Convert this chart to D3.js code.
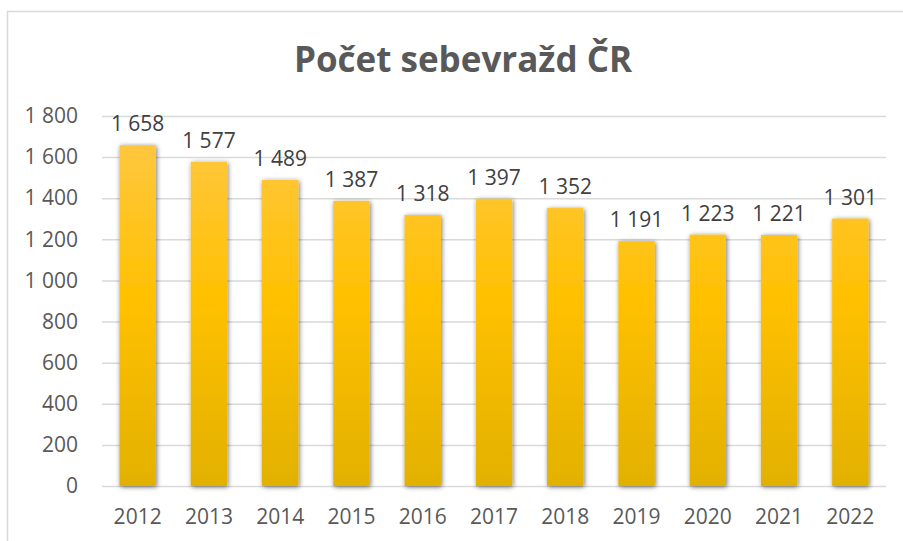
<!DOCTYPE html>
<html>
<head>
<meta charset="utf-8">
<script src="https://cdn.jsdelivr.net/npm/d3@7"></script>
<style>
  body { margin: 0; background: #fff; }
  text { font-family: "Open Sans", sans-serif; }
</style>
</head>
<body>
<svg id="chart" width="903" height="541"></svg>
<script>
const years = ["2012", "2013", "2014", "2015", "2016", "2017", "2018", "2019", "2020", "2021", "2022"];
const suicides = [1658, 1577, 1489, 1387, 1318, 1397, 1352, 1191, 1223, 1221, 1301];
const yTicks = [0, 200, 400, 600, 800, 1000, 1200, 1400, 1600, 1800];
const title = "Počet sebevražd ČR";

const svg = d3.select("#chart");
const margin = { left: 102, right: 17, top: 116, bottom: 55 };
const width = 903, height = 541;
const fontSize = 21;

// czech style thousands: "1 658"
const fmt = n => d3.format(",")(n).replace(/,/g, " ");

const x = d3.scaleBand()
    .domain(years)
    .range([margin.left, width - margin.right])
    .paddingInner(0.49)
    .paddingOuter(0.245);

const y = d3.scaleLinear()
    .domain([0, 1800])
    .range([height - margin.bottom, margin.top]);

const defs = svg.append("defs");
const grad = defs.append("linearGradient")
    .attr("id", "barGrad")
    .attr("gradientUnits", "userSpaceOnUse")
    .attr("x1", 0).attr("x2", 0)
    .attr("y1", y(1800)).attr("y2", y(0));
grad.append("stop").attr("offset", "0%").attr("stop-color", "#ffc84a");
grad.append("stop").attr("offset", "50%").attr("stop-color", "#ffc000");
grad.append("stop").attr("offset", "100%").attr("stop-color", "#e2b100");

const shadow = defs.append("filter")
    .attr("id", "shadow")
    .attr("x", "-30%").attr("y", "-10%").attr("width", "160%").attr("height", "120%");
shadow.append("feGaussianBlur").attr("in", "SourceAlpha").attr("stdDeviation", 2.5).attr("result", "blur");
shadow.append("feOffset").attr("in", "blur").attr("dx", 1).attr("dy", 1).attr("result", "off");
shadow.append("feComponentTransfer").attr("in", "off").attr("result", "soft")
    .append("feFuncA").attr("type", "linear").attr("slope", 0.55);
const merge = shadow.append("feMerge");
merge.append("feMergeNode").attr("in", "soft");
merge.append("feMergeNode").attr("in", "SourceGraphic");

// chart frame (top and left edges visible)
svg.append("path")
    .attr("d", `M7.5,${height} V11.5 H${width}`)
    .attr("fill", "none")
    .attr("stroke", "#d9d9d9")
    .attr("stroke-width", 1.5);

svg.append("text")
    .attr("x", 463)
    .attr("y", 72)
    .attr("text-anchor", "middle")
    .attr("font-size", 35)
    .attr("font-weight", "bold")
    .attr("fill", "#595959")
    .text(title);

// gridlines + y labels
const yAxis = d3.axisLeft(y)
    .tickValues(yTicks)
    .tickSize(-(width - margin.left - margin.right))
    .tickPadding(24)
    .tickFormat(fmt);

const gY = svg.append("g")
    .attr("transform", `translate(${margin.left},0)`)
    .call(yAxis);
gY.select(".domain").remove();
gY.selectAll(".tick line").attr("stroke", "#d9d9d9").attr("stroke-width", 1.5);
gY.selectAll(".tick text")
    .attr("font-size", fontSize)
    .attr("fill", "#595959")
    .attr("font-family", "Open Sans, sans-serif");

const xAxis = d3.axisBottom(x).tickSize(0).tickPadding(23);
const gX = svg.append("g")
    .attr("transform", `translate(0,${y(0)})`)
    .call(xAxis);
gX.select(".domain").remove();
gX.selectAll(".tick text")
    .attr("font-size", fontSize)
    .attr("fill", "#595959")
    .attr("font-family", "Open Sans, sans-serif");

svg.append("g")
    .selectAll("rect")
    .data(suicides)
    .join("rect")
    .attr("x", (d, i) => x(years[i]))
    .attr("y", d => y(d))
    .attr("width", x.bandwidth())
    .attr("height", d => y(0) - y(d))
    .attr("fill", "url(#barGrad)")
    .attr("filter", "url(#shadow)");

svg.append("g")
    .selectAll("text")
    .data(suicides)
    .join("text")
    .attr("x", (d, i) => x(years[i]) + x.bandwidth() / 2)
    .attr("y", d => y(d) - 14)
    .attr("text-anchor", "middle")
    .attr("font-size", fontSize)
    .attr("fill", "#404040")
    .text(fmt);
</script>
</body>
</html>
